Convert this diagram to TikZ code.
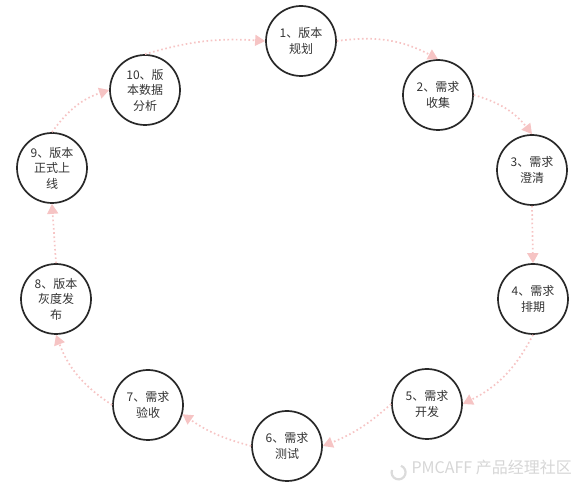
\documentclass[tikz,border=0pt]{standalone}
\usepackage{fontspec}
\setmainfont{Noto Sans CJK SC}
\usetikzlibrary{arrows.meta}
\definecolor{flowpink}{RGB}{246,196,196}
\definecolor{ringline}{RGB}{40,40,40}

\begin{document}
\begin{tikzpicture}[x=1pt, y=-1pt,
    stagenode/.style={circle, draw=ringline, line width=1.7pt, minimum size=70pt, inner sep=0pt,
      align=center, font=\fontsize{12}{15.5}\selectfont, text=black!80},
    flowarrow/.style={flowpink, line width=1.7pt, dash pattern=on 1.6pt off 2.6pt,
      -{Triangle[width=11pt, length=10pt]}},
    watermark/.style={font=\fontsize{16}{16}\selectfont, text=black!16}
  ]
  \useasboundingbox (0,0) rectangle (582,489);

  % the ten stages, clockwise from the top
  \node[stagenode] (s1)  at (301,41)  {1、版本\\规划};
  \node[stagenode] (s2)  at (438,95)  {2、需求\\收集};
  \node[stagenode] (s3)  at (532,170) {3、需求\\澄清};
  \node[stagenode] (s4)  at (533,299) {4、需求\\排期};
  \node[stagenode] (s5)  at (427,404) {5、需求\\开发};
  \node[stagenode] (s6)  at (287,446) {6、需求\\测试};
  \node[stagenode] (s7)  at (148,405) {7、需求\\验收};
  \node[stagenode] (s8)  at (56,299)  {8、版本\\灰度发\\布};
  \node[stagenode] (s9)  at (52,168)  {9、版本\\正式上\\线};
  \node[stagenode] (s10) at (145,90)  {10、版\\本数据\\分析};

  % flow between stages
  \draw[flowarrow] (s1.east) to[bend left=18] (s2.north);
  \draw[flowarrow] (s2.east) to[bend left=18] (s3.north);
  \draw[flowarrow] (s3.south) -- (s4.north);
  \draw[flowarrow] (s4.south) to[bend left=18] (s5.east);
  \draw[flowarrow] (s5.west) to[bend left=10] (s6.east);
  \draw[flowarrow] (s6.west) to[bend left=10] (s7.-15);
  \draw[flowarrow] (s7.west) to[bend left=18] (s8.south);
  \draw[flowarrow] (s8.north) -- (s9.south);
  \draw[flowarrow] (s9.north) to[bend left=18] (s10.west);
  \draw[flowarrow] (s10.north) to[bend left=10] (s1.west);

  % watermark
  \draw[black!14, line width=2.2pt] (392,470) arc[start angle=200, end angle=-70, radius=7];
  \node[watermark, anchor=west] (wm) at (408,467) {PMCAFF 产品经理社区};
\end{tikzpicture}
\end{document}
